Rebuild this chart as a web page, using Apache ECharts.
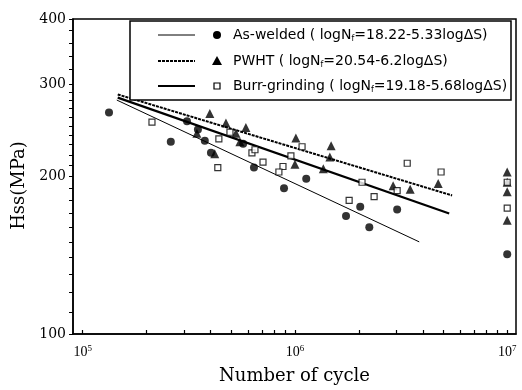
<!DOCTYPE html>
<html><head><meta charset="utf-8">
<script src="https://cdn.jsdelivr.net/npm/echarts@6/dist/echarts.min.js"></script>
<style>html,body{margin:0;padding:0;background:#fff}#c{width:522px;height:390px}</style>
</head><body><div id="c"></div>
<script>
// Axis ranges and ticks (original units)
const xRange = [9e4, 1.1e7];
const yRange = [100, 400];
const xMajor = [1e5, 1e6, 1e7];
const xMinor = [2e5, 3e5, 4e5, 5e5, 6e5, 7e5, 8e5, 9e5, 2e6, 3e6, 4e6, 5e6, 6e6, 7e6, 8e6, 9e6];
const yMajor = [100, 200, 300, 400];
const yMinor = [110, 120, 130, 140, 150, 160, 170, 180, 190, 210, 220, 230, 240, 250, 260, 270, 280, 290, 320, 340, 360, 380];

// As-welded (filled circles)
const awN = [1.33e5, 2.6e5, 3.1e5, 3.49e5, 3.76e5, 4.02e5, 5.7e5, 6.41e5, 8.88e5, 1.13e6, 1.74e6, 2.03e6, 2.24e6, 3.03e6, 1e7];
const awS = [265, 233, 255, 246, 234, 222, 231, 208, 190, 198, 168, 175, 160, 173, 142];
// PWHT (filled triangles)
const pwN = [3.97e5, 3.45e5, 4.19e5, 4.73e5, 5.27e5, 5.5e5, 5.87e5, 1.01e6, 1.0e6, 1.36e6, 1.46e6, 1.48e6, 2.9e6, 3.49e6, 4.73e6, 1e7, 1e7, 1e7, 1e7];
const pwS = [264, 242, 221, 253, 242, 233, 248, 237, 211, 207, 218, 229, 192, 189, 194, 204, 195, 187, 165];
// Burr-grinding (open squares)
const bgN = [2.12e5, 4.38e5, 4.33e5, 4.94e5, 6.27e5, 6.48e5, 7.07e5, 8.78e5, 8.4e5, 9.57e5, 1.08e6, 1.8e6, 2.07e6, 2.36e6, 3.03e6, 3.38e6, 4.88e6, 1e7, 1e7];
const bgS = [254, 236, 208, 243, 222, 225, 213, 209, 204, 219, 228, 180, 195, 183, 188, 212, 204, 195, 174];

// Fitted lines (end points)
const awLineN = [1.447e5, 3.85e6];
const awLineS = [280, 150];
const pwLineN = [1.462e5, 5.5e6];
const pwLineS = [287, 184];
const bgLineN = [1.462e5, 5.33e6];
const bgLineS = [283, 170];

const legendLabels = [
  ['As-welded ( logN', 'f', '=18.22-5.33logΔS)'],
  ['PWHT ( logN', 'f', '=20.54-6.2logΔS)'],
  ['Burr-grinding ( logN', 'f', '=19.18-5.68logΔS)']
];

const L = Math.log10;
const pts = (ns, ss) => ns.map((n, i) => [L(n), L(ss[i])]);
const serif = 'Liberation Serif';
const serifW = 'DejaVu Serif';
const sans = 'DejaVu Sans';

const chart = echarts.init(document.getElementById('c'));

const rows = [35, 61, 86];
const legendGraphics = [
  { type: 'rect', z: 100, shape: { x: 130, y: 21, width: 381, height: 79 }, style: { fill: '#fff', stroke: '#000', lineWidth: 1.5 } },
  { type: 'line', z: 101, shape: { x1: 158, y1: rows[0], x2: 195, y2: rows[0] }, style: { stroke: '#000', lineWidth: 1 } },
  { type: 'line', z: 101, shape: { x1: 158, y1: rows[1], x2: 195, y2: rows[1] }, style: { stroke: '#000', lineWidth: 2, lineDash: [3, 1] } },
  { type: 'line', z: 101, shape: { x1: 158, y1: rows[2], x2: 195, y2: rows[2] }, style: { stroke: '#000', lineWidth: 2.2 } },
  { type: 'circle', z: 101, shape: { cx: 217, cy: rows[0], r: 4 }, style: { fill: '#000' } },
  { type: 'polygon', z: 101, shape: { points: [[217, rows[1] - 5], [222, rows[1] + 4], [212, rows[1] + 4]] }, style: { fill: '#000' } },
  { type: 'rect', z: 101, shape: { x: 214, y: rows[2] - 3, width: 6, height: 6 }, style: { fill: '#fff', stroke: '#000', lineWidth: 1.2 } }
];
legendLabels.forEach((p, i) => {
  legendGraphics.push({
    type: 'text', z: 101, x: 233, y: rows[i],
    style: {
      text: '{t|' + p[0] + '}{s|' + p[1] + '}{t|' + p[2] + '}',
      verticalAlign: 'middle',
      rich: {
        t: { fontFamily: sans, fontSize: 14, fill: '#000' },
        s: { fontFamily: sans, fontSize: 8, fill: '#000', padding: [7, 0, 0, 0] }
      }
    }
  });
});

// x tick marks: major + minor, drawn by the x axis scale
const xTickVals = xMajor.concat(xMinor).map(L);

const option = {
  animation: false,
  backgroundColor: '#fff',
  grid: { left: 73, right: 6, top: 19, bottom: 54, show: true, borderColor: '#000', borderWidth: 1.5 },
  xAxis: {
    type: 'value', min: L(xRange[0]), max: L(xRange[1]),
    position: 'bottom',
    splitLine: { show: false },
    name: 'Number of cycle', nameLocation: 'middle', nameGap: 33,
    nameTextStyle: { fontFamily: serifW, fontSize: 18, color: '#000' },
    axisLine: { show: true, onZero: false, lineStyle: { color: '#000', width: 1.5 } },
    axisTick: { show: true, inside: true, length: 4, customValues: xTickVals, lineStyle: { color: '#000', width: 1.2 } },
    axisLabel: {
      customValues: xMajor.map(L), margin: 10,
      formatter: v => '{b|10}{sup|' + Math.round(v) + '}',
      rich: {
        b: { fontFamily: serif, fontSize: 14, color: '#000' },
        sup: { fontFamily: serif, fontSize: 9, color: '#000', padding: [0, 0, 8, 0] }
      }
    }
  },
  yAxis: {
    type: 'value', min: L(yRange[0]), max: L(yRange[1]),
    splitLine: { show: false },
    name: 'Hss(MPa)', nameLocation: 'middle', nameGap: 42, nameRotate: 90,
    nameTextStyle: { fontFamily: serifW, fontSize: 18, color: '#000', padding: [0, 18, 0, 0] },
    axisLine: { show: true, onZero: false, lineStyle: { color: '#000', width: 1.5 } },
    axisTick: { show: true, inside: false, length: 4, customValues: yMajor.concat(yMinor).map(L), lineStyle: { color: '#000', width: 1 } },
    axisLabel: {
      customValues: yMajor.map(L), margin: 7,
      fontFamily: serifW, fontSize: 14, color: '#000',
      formatter: v => String(Math.round(Math.pow(10, v)))
    }
  },
  series: [
    { name: 'As-welded line', type: 'line', data: pts(awLineN, awLineS), symbol: 'none', lineStyle: { color: '#000', width: 1 }, z: 3 },
    { name: 'PWHT line', type: 'line', data: pts(pwLineN, pwLineS), symbol: 'none', lineStyle: { color: '#000', width: 2, type: [3, 1] }, z: 3 },
    { name: 'Burr-grinding line', type: 'line', data: pts(bgLineN, bgLineS), symbol: 'none', lineStyle: { color: '#000', width: 2.2 }, z: 3 },
    { name: 'As-welded', type: 'scatter', data: pts(awN, awS), symbol: 'circle', symbolSize: 8, itemStyle: { color: '#000' }, z: 4 },
    { name: 'PWHT', type: 'scatter', data: pts(pwN, pwS), symbol: 'triangle', symbolSize: 9, itemStyle: { color: '#000' }, z: 4 },
    { name: 'Burr-grinding', type: 'scatter', data: pts(bgN, bgS), symbol: 'rect', symbolSize: 6, itemStyle: { color: '#fff', borderColor: '#000', borderWidth: 1.2 }, z: 5 }
  ],
  graphic: legendGraphics
};
chart.setOption(option);
</script>
</body></html>
